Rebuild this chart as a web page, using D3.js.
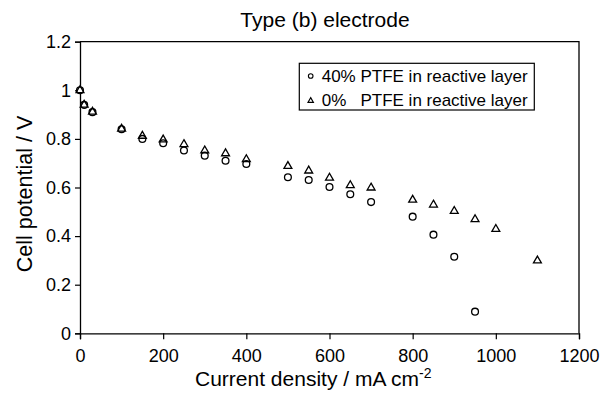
<!DOCTYPE html>
<html>
<head>
<meta charset="utf-8">
<script src="https://cdn.jsdelivr.net/npm/d3@7"></script>
<style>
  body { margin: 0; background: #fff; }
  text { font-family: "Liberation Sans", Arial, sans-serif; fill: #000; }
</style>
</head>
<body>
<div class="canvas"></div>
<script>
// data
const currentPTFE40 = [0, 10, 30, 100, 150, 200, 250, 300, 350, 400, 500, 550, 600, 650, 700, 800, 850, 900, 950];
const voltagePTFE40 = [1.0, 0.94, 0.91, 0.84, 0.80, 0.782, 0.752, 0.731, 0.71, 0.697, 0.642, 0.631, 0.602, 0.572, 0.54, 0.48, 0.406, 0.315, 0.089];

const currentPTFE0 = [0, 10, 30, 100, 150, 200, 250, 300, 350, 400, 500, 550, 600, 650, 700, 800, 850, 900, 950, 1000, 1100];
const voltagePTFE0 = [1.0, 0.94, 0.911, 0.841, 0.812, 0.797, 0.778, 0.752, 0.74, 0.716, 0.688, 0.669, 0.64, 0.609, 0.599, 0.549, 0.529, 0.503, 0.469, 0.429, 0.299];

const xTicks = [0, 200, 400, 600, 800, 1000, 1200];
const yTicks = [0, 0.2, 0.4, 0.6, 0.8, 1.0, 1.2];
const legendLabels = ['40% PTFE in reactive layer', '0%   PTFE in reactive layer'];

const width = 610;
const height = 396;
const margin = { top: 41.7, right: 31, bottom: 62.7, left: 80 };
const graphWidth = width - margin.left - margin.right;
const graphHeight = height - margin.top - margin.bottom;

const svg = d3.select('.canvas').append('svg')
    .attr('width', width)
    .attr('height', height);

const graph = svg.append('g')
    .attr('transform', `translate(${margin.left}, ${margin.top})`);

// scales
const x = d3.scaleLinear().domain([0, 1200]).range([0, graphWidth]);
const y = d3.scaleLinear().domain([0, 1.2]).range([graphHeight, 0]);

// frame (top and right sides)
graph.append('path')
    .attr('d', `M0,0H${graphWidth}V${graphHeight}`)
    .attr('fill', 'none')
    .attr('stroke', '#000')
    .attr('stroke-width', 1.3);

// axes
const xAxis = d3.axisBottom(x)
    .tickValues(xTicks)
    .tickSize(6)
    .tickPadding(9.5)
    .tickFormat(d => d);

const yAxis = d3.axisLeft(y)
    .tickValues(yTicks)
    .tickSize(5)
    .tickPadding(4)
    .tickFormat(d => String(+d.toFixed(1)));

const xAxisGroup = graph.append('g')
    .attr('transform', `translate(0, ${graphHeight})`)
    .call(xAxis);

const yAxisGroup = graph.append('g')
    .call(yAxis);

[xAxisGroup, yAxisGroup].forEach(g => {
    g.select('.domain').attr('stroke', '#000').attr('stroke-width', 1.3);
    g.selectAll('.tick line').attr('stroke', '#000').attr('stroke-width', 1.2);
    g.selectAll('text')
        .attr('font-family', '"Liberation Sans", Arial, sans-serif')
        .attr('font-size', 18)
        .attr('fill', '#000');
});

// points
const triangle = d3.symbol().type(d3.symbolTriangle).size(27);

graph.selectAll('path.tri')
    .data(currentPTFE0.map((c, i) => ({ c, v: voltagePTFE0[i] })))
    .enter()
    .append('path')
    .attr('class', 'tri')
    .attr('d', triangle)
    .attr('transform', d => `translate(${x(d.c)}, ${y(d.v)})`)
    .attr('fill', '#fff')
    .attr('stroke', '#000')
    .attr('stroke-width', 1.3);

graph.selectAll('circle')
    .data(currentPTFE40.map((c, i) => ({ c, v: voltagePTFE40[i] })))
    .enter()
    .append('circle')
    .attr('r', 3.4)
    .attr('cx', d => x(d.c))
    .attr('cy', d => y(d.v))
    .attr('fill', 'none')
    .attr('stroke', '#000')
    .attr('stroke-width', 1.3);

// title and axis labels
svg.append('text')
    .attr('x', 325)
    .attr('y', 27)
    .attr('text-anchor', 'middle')
    .attr('font-size', 21)
    .text('Type (b) electrode');

const xLabel = svg.append('text')
    .attr('x', 195)
    .attr('y', 386)
    .attr('font-size', 21);
xLabel.append('tspan').text('Current density / mA cm');
xLabel.append('tspan').attr('dy', -8).attr('font-size', 14).text('-2');

svg.append('text')
    .attr('transform', `translate(32, 194) rotate(-90)`)
    .attr('text-anchor', 'middle')
    .attr('font-size', 21.5)
    .text('Cell potential / V');

// legend
const legend = svg.append('g').attr('transform', 'translate(299.3, 63.3)');
legend.append('rect')
    .attr('width', 235)
    .attr('height', 46.7)
    .attr('fill', '#fff')
    .attr('stroke', '#000')
    .attr('stroke-width', 1.2);

legend.append('circle')
    .attr('cx', 11.4).attr('cy', 12.7).attr('r', 2.3)
    .attr('fill', 'none').attr('stroke', '#000').attr('stroke-width', 1.1);

legend.append('path')
    .attr('d', d3.symbol().type(d3.symbolTriangle).size(13))
    .attr('transform', 'translate(11.4, 37.5)')
    .attr('fill', 'none').attr('stroke', '#000').attr('stroke-width', 1.1);

legend.selectAll('text.leg')
    .data(legendLabels)
    .enter()
    .append('text')
    .attr('class', 'leg')
    .attr('x', 22.4)
    .attr('y', (d, i) => 18.5 + i * 24.5)
    .attr('font-size', 17)
    .style('white-space', 'pre')
    .text(d => d);
</script>
</body>
</html>
